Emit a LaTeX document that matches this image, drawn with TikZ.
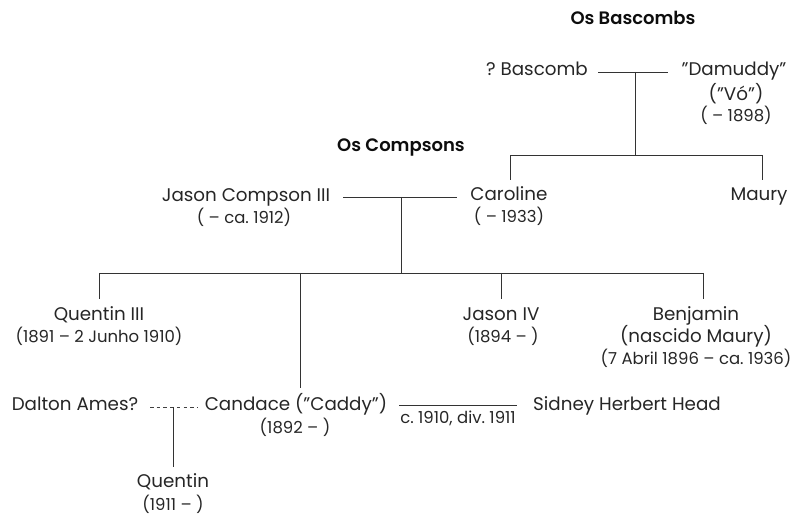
\documentclass[tikz,border=0pt]{standalone}
\usepackage{fontspec}
\setmainfont{Poppins}
\newfontfamily\medfont{Poppins SemiBold}
\begin{document}
\frenchspacing
\begin{tikzpicture}[x=1pt,y=-1pt,
  nm/.style={font=\fontsize{18.3}{22}\selectfont, text=black!85, inner sep=0pt, text height=0.7em, text depth=0pt},
  dt/.style={font=\fontsize{16.5}{20}\selectfont, text=black!85, inner sep=0pt, text height=0.7em, text depth=0pt},
  ttl/.style={font=\fontsize{18}{22}\selectfont\medfont, text=black!95, inner sep=0pt, text height=0.7em, text depth=0pt},
  ln/.style={draw=black!80, line width=0.9pt},
  dln/.style={draw=black!75, line width=0.8pt, dash pattern=on 3.5pt off 3.2pt}]
\useasboundingbox (0,0) rectangle (793,518);
% titles
\node[ttl] (tbas) at (633,21) {Os Bascombs};
\node[ttl] (tcom) at (401,148) {Os Compsons};
% Bascomb generation
\node[nm] (bascomb) at (537,72) {? Bascomb};
\node[nm] (damuddy) at (734,72) {"Damuddy"};
\node[nm] (vo) at (736,97) {("Vó")};
\node[dt] (d1898) at (736,118) {( – 1898)};
% Compson parents
\node[nm] (jason3) at (246,198) {Jason Compson III};
\node[dt] (j3d) at (244,220) {( – ca. 1912)};
\node[nm] (caroline) at (509,197) {Caroline};
\node[dt] (card) at (509,219) {( – 1933)};
\node[nm] (maury) at (759,197) {Maury};
% children
\node[nm] (quentin3) at (99,317) {Quentin III};
\node[dt] (q3d) at (99,339) {(1891 – 2 Junho 1910)};
\node[nm] (jason4) at (501,317) {Jason IV};
\node[dt] (j4d) at (503,339) {(1894 – )};
\node[nm] (benjamin) at (696,317) {Benjamin};
\node[nm] (nascido) at (696,339) {(nascido Maury)};
\node[dt] (bend) at (696,361) {(7 Abril 1896 – ca. 1936)};
\node[nm] (dalton) at (75,407) {Dalton Ames?};
\node[nm] (candace) at (296,407) {Candace ("Caddy")};
\node[dt] (cand) at (295,430) {(1892 – )};
\node[nm] (sidney) at (627,407) {Sidney Herbert Head};
\node[nm] (quentin) at (173,484) {Quentin};
\node[dt] (qd) at (173,507) {(1911 – )};
% coordinates
\coordinate (b1) at (598,72);
\coordinate (b2) at (668,72);
\coordinate (bj) at (635,72);
\coordinate (bb) at (635,155);
\coordinate (bl) at (510,155);
\coordinate (br) at (762,155);
\coordinate (blt) at (510,180);
\coordinate (brt) at (762,180);
\coordinate (c1) at (343,197);
\coordinate (c2) at (457,197);
\coordinate (cj) at (401,197);
\coordinate (cb) at (401,273);
\coordinate (k1) at (99,273);
\coordinate (k2) at (300,273);
\coordinate (k3) at (501,273);
\coordinate (k4) at (703,273);
\coordinate (k1t) at (99,299);
\coordinate (k2t) at (300,388);
\coordinate (k3t) at (501,299);
\coordinate (k4t) at (703,299);
\coordinate (m1) at (399,405);
\coordinate (m2) at (517,405);
\coordinate (a1) at (150,407);
\coordinate (a2) at (197,407);
\coordinate (aj) at (173,407);
\coordinate (ab) at (173,467);
% connectors
\draw[ln] (b1) -- (b2);
\draw[ln] (bj) -- (bb);
\draw[ln] (blt) -- (bl) -- (br) -- (brt);
\draw[ln] (c1) -- (c2);
\draw[ln] (cj) -- (cb);
\draw[ln] (k1) -- (k4);
\draw[ln] (k1) -- (k1t);
\draw[ln] (k2) -- (k2t);
\draw[ln] (k3) -- (k3t);
\draw[ln] (k4) -- (k4t);
\draw[ln] (m1) -- (m2) node[dt, midway, below=11pt] (mlab) {c. 1910, div. 1911};
\draw[dln] (a1) -- (a2);
\draw[ln] (aj) -- (ab);
\end{tikzpicture}
\end{document}
